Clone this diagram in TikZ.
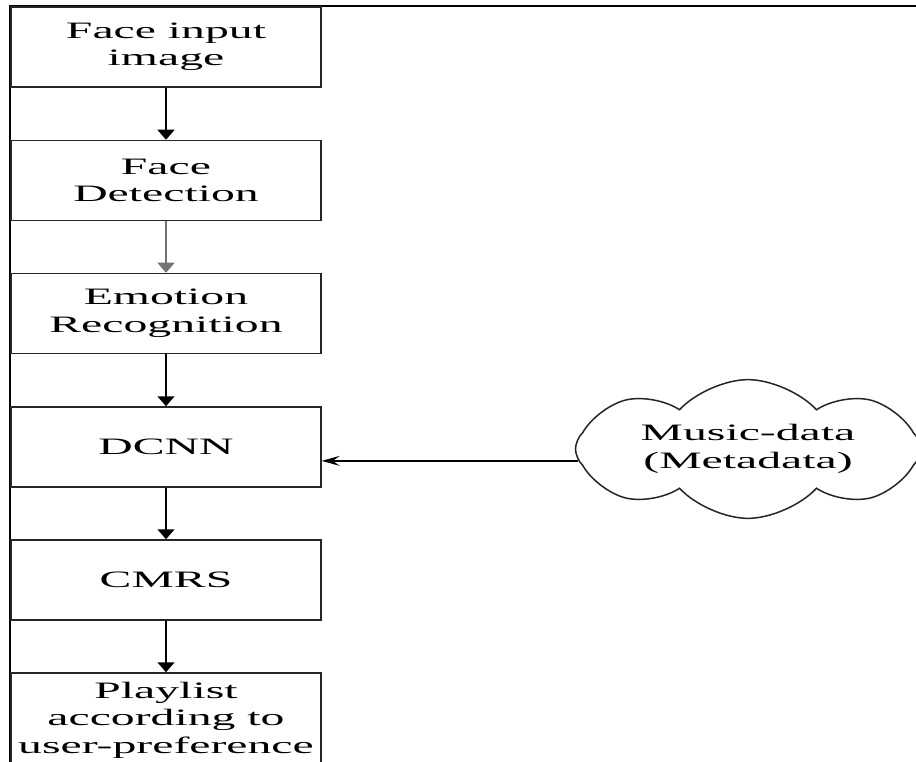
\documentclass[tikz,border=0pt]{standalone}
\usepackage{fontspec}
\setmainfont{Liberation Serif}[FakeStretch=2.03]
\usetikzlibrary{shapes.symbols,arrows.meta}
\tikzset{
  block/.style={draw=black!85, line width=1.5pt, minimum width=310pt,
    minimum height=80pt, inner sep=0pt, align=center,
    font=\fontsize{23.5}{27.5}\selectfont},
  flow/.style={line width=1.5pt, -{Triangle[width=17pt,length=10pt]}},
}

\begin{document}
\begin{tikzpicture}[x=1pt, y=-1pt]
    % page size
    \clip (0,0) rectangle (916,762);
    \fill [white] (0,0) rectangle (916,762);

    % frame along top and left
    \draw [line width=2.2pt] (10,762) -- (10,6) -- (916,6);

    % the steps
    \node [block] (input) at (166,47) {Face input\\image};
    \node [block] (detect) at (166,180.5) {Face\\Detection};
    \node [block] (emotion) at (166,313.5) {Emotion\\Recognition};
    \node [block] (dcnn) at (166,447) {DCNN};
    \node [block] (cmrs) at (166,580) {CMRS};
    \node [block, minimum height=94pt] (playlist) at (166,720)
      {Playlist\\according to\\user-preference};

    % the music source
    \node [cloud, draw=black!85, line width=1.5pt, cloud puffs=8,
      cloud puff arc=95, aspect=3.2, minimum width=345pt, minimum height=113pt,
      inner sep=0pt, align=center, font=\fontsize{23.5}{27.5}\selectfont]
      (music) at (748,449) {Music-data\\(Metadata)};

    % arrows
    \draw [flow] (input) -- (detect);
    \draw [flow, draw=black!55] (detect) -- (emotion);
    \draw [flow] (emotion) -- (dcnn);
    \draw [flow] (dcnn) -- (cmrs);
    \draw [flow] (cmrs) -- (playlist);
    \draw [line width=1.5pt, -{Stealth[length=18pt,width=10pt,inset=7pt]}]
      (music.184) -- (music.184 -| dcnn.east);
\end{tikzpicture}
\end{document}
